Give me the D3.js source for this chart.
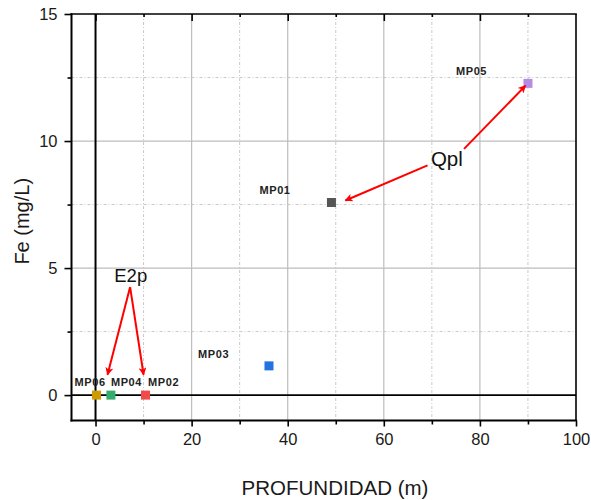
<!DOCTYPE html>
<html>
<head>
<meta charset="utf-8">
<script src="https://cdn.jsdelivr.net/npm/d3@7"></script>
<style>
  html, body { margin: 0; padding: 0; background: #fff; }
  svg { display: block; font-family: Arial, "Liberation Sans", sans-serif; }
</style>
</head>
<body>
<svg id="chart" width="591" height="500"></svg>
<script>
// Sampling points: depth (m) and dissolved iron (mg/L)
const wells  = ["MP06", "MP04", "MP02", "MP03", "MP01", "MP05"];
const depth  = [0.2, 3.2, 10.4, 36.1, 49.1, 90.0];
const iron   = [0, 0, 0, 1.15, 7.58, 12.27];
const colors = ["#CC9B06", "#35AC6C", "#F04A4A", "#2272E0", "#555555", "#B58BE3"];

const xTicks = [0, 20, 40, 60, 80, 100];
const yTicks = [0, 5, 10, 15];
const xMinor = [10, 30, 50, 70, 90];
const yMinor = [2.5, 7.5, 12.5];

// Geological unit annotations (arrow tails/heads in data units)
const units = ["Qpl", "E2p"];
const unitText = [[69.8, 9.0], [3.9, 4.47]];
const unitArrows = [
  [[69.1, 9.04], [52.0, 7.66]],
  [[76.7, 9.69], [89.5, 12.18]],
  [[7.2, 4.25], [2.5, 0.8]],
  [[7.2, 4.25], [10.0, 0.8]]
];

const svg = d3.select("#chart");
const pLeft = 71.5, pRight = 576, pTop = 14, pBottom = 420.5;

const x = d3.scaleLinear().domain([-5, 100]).range([pLeft, pRight]);
const y = d3.scaleLinear().domain([-1, 15]).range([pBottom, pTop]);

// arrowhead
svg.append("defs").append("marker")
  .attr("id", "head")
  .attr("viewBox", "0 0 10 10")
  .attr("refX", 9).attr("refY", 5)
  .attr("markerWidth", 5).attr("markerHeight", 4)
  .attr("markerUnits", "strokeWidth")
  .attr("orient", "auto")
  .append("path").attr("d", "M0,0 L10,5 L0,10 L2.5,5 Z").attr("fill", "#ff0000");

// grid
const grid = svg.append("g");
grid.selectAll(".gmx").data(xMinor).join("line")
  .attr("x1", d => x(d)).attr("x2", d => x(d)).attr("y1", pTop).attr("y2", pBottom)
  .attr("stroke", "#c8c8c8").attr("stroke-width", 1).attr("stroke-dasharray", "3,2,1,2");
grid.selectAll(".gmy").data(yMinor).join("line")
  .attr("y1", d => y(d)).attr("y2", d => y(d)).attr("x1", pLeft).attr("x2", pRight)
  .attr("stroke", "#c8c8c8").attr("stroke-width", 1).attr("stroke-dasharray", "3,2,1,2");
grid.selectAll(".gx").data(xTicks.filter(v => v > 0 && v < 100)).join("line")
  .attr("x1", d => x(d)).attr("x2", d => x(d)).attr("y1", pTop).attr("y2", pBottom)
  .attr("stroke", "#bdbdbd").attr("stroke-width", 1.2);
grid.selectAll(".gy").data(yTicks.filter(v => v > 0 && v < 15)).join("line")
  .attr("y1", d => y(d)).attr("y2", d => y(d)).attr("x1", pLeft).attr("x2", pRight)
  .attr("stroke", "#bdbdbd").attr("stroke-width", 1.2);

// zero lines
svg.append("line").attr("x1", x(0)).attr("x2", x(0)).attr("y1", pTop).attr("y2", pBottom)
  .attr("stroke", "#000").attr("stroke-width", 2);
svg.append("line").attr("x1", pLeft).attr("x2", pRight).attr("y1", y(0)).attr("y2", y(0))
  .attr("stroke", "#000").attr("stroke-width", 1.6);

// axes
const tickFont = g => g.selectAll("text")
  .attr("font-size", 16.5).attr("fill", "#1a1a1a")
  .attr("font-family", "Arial, 'Liberation Sans', sans-serif");

const xAxis = svg.append("g").attr("transform", `translate(0,${pBottom})`)
  .call(d3.axisBottom(x).tickValues(xTicks).tickSize(6).tickPadding(7).tickFormat(d3.format("d")));
xAxis.call(tickFont);
xAxis.select(".domain").remove();
xAxis.selectAll("line").attr("stroke", "#000").attr("stroke-width", 1.6);
svg.append("g").attr("transform", `translate(0,${pBottom})`)
  .call(d3.axisBottom(x).tickValues(xMinor).tickSize(4).tickFormat(""))
  .call(g => g.select(".domain").remove())
  .selectAll("line").attr("stroke", "#000").attr("stroke-width", 1.6);

const yAxis = svg.append("g").attr("transform", `translate(${pLeft},0)`)
  .call(d3.axisLeft(y).tickValues(yTicks).tickSize(7).tickPadding(7).tickFormat(d3.format("d")));
yAxis.call(tickFont);
yAxis.select(".domain").remove();
yAxis.selectAll("line").attr("stroke", "#000").attr("stroke-width", 1.6);
svg.append("g").attr("transform", `translate(${pLeft},0)`)
  .call(d3.axisLeft(y).tickValues(yMinor).tickSize(4).tickFormat(""))
  .call(g => g.select(".domain").remove())
  .selectAll("line").attr("stroke", "#000").attr("stroke-width", 1.6);

// top axis ticks point inward
svg.append("g").attr("transform", `translate(0,${pTop})`)
  .call(d3.axisBottom(x).tickValues(xTicks.filter(v => v < 100)).tickSize(7).tickFormat(""))
  .call(g => g.select(".domain").remove())
  .selectAll("line").attr("stroke", "#000").attr("stroke-width", 1.6);
svg.append("g").attr("transform", `translate(0,${pTop})`)
  .call(d3.axisBottom(x).tickValues(xMinor).tickSize(3).tickFormat(""))
  .call(g => g.select(".domain").remove())
  .selectAll("line").attr("stroke", "#000").attr("stroke-width", 1.6);

// frame
svg.append("line").attr("x1", pLeft - 1).attr("x2", pRight + 0.8).attr("y1", pTop).attr("y2", pTop)
  .attr("stroke", "#000").attr("stroke-width", 1.6);
svg.append("line").attr("x1", pRight).attr("x2", pRight).attr("y1", pTop).attr("y2", pBottom)
  .attr("stroke", "#000").attr("stroke-width", 1.6);
svg.append("line").attr("x1", pLeft).attr("x2", pLeft).attr("y1", pTop - 0.8).attr("y2", pBottom + 1)
  .attr("stroke", "#000").attr("stroke-width", 2);
svg.append("line").attr("x1", pLeft - 1).attr("x2", pRight + 1).attr("y1", pBottom).attr("y2", pBottom)
  .attr("stroke", "#000").attr("stroke-width", 2);

// axis titles
svg.append("text").attr("x", 335).attr("y", 495)
  .attr("text-anchor", "middle").attr("font-size", 20.5).attr("fill", "#1a1a1a")
  .text("PROFUNDIDAD (m)");
svg.append("text")
  .attr("transform", `translate(28.5,${(pTop + pBottom) / 2 + 4}) rotate(-90)`)
  .attr("text-anchor", "middle").attr("font-size", 20).attr("fill", "#1a1a1a")
  .text("Fe (mg/L)");

// points
const pts = wells.map((w, i) => ({ w, d: depth[i], fe: iron[i], c: colors[i] }));
const s = 9;
svg.append("g").selectAll("rect").data(pts).join("rect")
  .attr("x", d => x(d.d) - s / 2).attr("y", d => y(d.fe) - s / 2)
  .attr("width", s).attr("height", s).attr("fill", d => d.c);

// well labels, offset from each point
const labelOffset = { MP06: [-22, -8.6], MP04: [0, -8.6], MP02: [2.5, -8.6],
                      MP03: [-71, -8.3], MP01: [-72, -8.7], MP05: [-72, -8.7] };
svg.append("g").selectAll("text").data(pts).join("text")
  .attr("x", d => x(d.d) + labelOffset[d.w][0])
  .attr("y", d => y(d.fe) + labelOffset[d.w][1])
  .attr("font-size", 11).attr("font-weight", "bold").attr("fill", "#222")
  .attr("letter-spacing", 0.6)
  .text(d => d.w);

// unit annotations
svg.append("g").selectAll("line").data(unitArrows).join("line")
  .attr("x1", d => x(d[0][0])).attr("y1", d => y(d[0][1]))
  .attr("x2", d => x(d[1][0])).attr("y2", d => y(d[1][1]))
  .attr("stroke", "#ff0000").attr("stroke-width", 2)
  .attr("marker-end", "url(#head)");
svg.append("g").selectAll("text").data(units).join("text")
  .attr("x", (d, i) => x(unitText[i][0])).attr("y", (d, i) => y(unitText[i][1]))
  .attr("font-size", (d, i) => i === 0 ? 20.5 : 18.5).attr("fill", "#111")
  .text(d => d);
</script>
</body>
</html>
